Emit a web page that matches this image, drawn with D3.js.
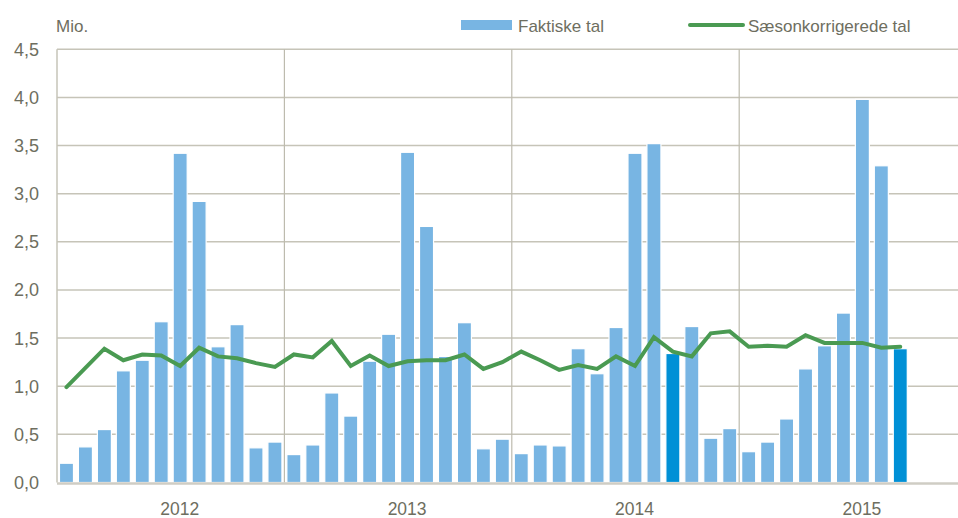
<!DOCTYPE html>
<html><head><meta charset="utf-8">
<script src="https://cdn.jsdelivr.net/npm/d3@7"></script>
<style>
body{margin:0;background:#fff;}
text{font-family:"Liberation Sans",Arial,sans-serif;fill:#6e6e60;}
</style></head>
<body>
<svg id="c" width="958" height="518"></svg>
<script>
const years = ["2012","2013","2014","2015"];
const actual = [
  0.20,0.37,0.55,1.16,1.27,1.67,3.42,2.92,1.41,1.64,0.36,0.42,
  0.29,0.39,0.93,0.69,1.26,1.54,3.43,2.66,1.31,1.66,0.35,0.45,
  0.30,0.39,0.38,1.39,1.13,1.61,3.42,3.52,1.34,1.62,0.46,0.56,
  0.32,0.42,0.66,1.18,1.42,1.76,3.98,3.29,1.39
];
const seasonal = [
  0.99,1.19,1.39,1.27,1.33,1.32,1.21,1.40,1.31,1.29,1.24,1.20,
  1.33,1.30,1.47,1.21,1.32,1.21,1.26,1.27,1.27,1.33,1.18,1.25,
  1.36,1.27,1.17,1.22,1.18,1.31,1.21,1.51,1.36,1.31,1.55,1.57,
  1.41,1.42,1.41,1.53,1.45,1.45,1.45,1.40,1.41
];
const highlighted = [32, 44]; // indices of darker bars
const yTicks = [0,0.5,1,1.5,2,2.5,3,3.5,4,4.5];
const legendLabels = ["Faktiske tal","Sæsonkorrigerede tal"];

const svg = d3.select("#c");
const mLeft = 57, mTop = 49.3, mBottom = 482.5, monthW = 18.95;
const nMonths = years.length * 12;
const x = d3.scaleBand().domain(d3.range(nMonths)).range([mLeft, mLeft + nMonths*monthW]).paddingInner(0.26).paddingOuter(0.13);
const y = d3.scaleLinear().domain([0,4.5]).range([mBottom, mTop]);
const xYear = d3.scaleBand().domain(years).range([mLeft, mLeft + nMonths*monthW]);
const fmt = d => d3.format(".1f")(d).replace(".", ",");

// horizontal grid
svg.append("g").selectAll("line").data(yTicks.filter(d=>d>0)).join("line")
  .attr("x1", mLeft).attr("x2", 958).attr("y1", d=>y(d)).attr("y2", d=>y(d))
  .attr("stroke","#c6c4b8").attr("stroke-width",1.5);
// vertical year separators
svg.append("g").selectAll("line").data(years.slice(1)).join("line")
  .attr("x1", d=>xYear(d)).attr("x2", d=>xYear(d)).attr("y1", mTop).attr("y2", mBottom)
  .attr("stroke","#bdbbae").attr("stroke-width",1.2);
// left axis line
svg.append("line").attr("x1",mLeft).attr("x2",mLeft).attr("y1",mTop).attr("y2",mBottom)
  .attr("stroke","#c6c4b8").attr("stroke-width",1.5);

// bars
svg.append("g").selectAll("rect").data(actual).join("rect")
  .attr("x",(d,i)=>x(i)).attr("width",x.bandwidth())
  .attr("y",d=>y(d)).attr("height",d=>mBottom-y(d))
  .attr("fill",(d,i)=>highlighted.includes(i)?"#0090d6":"#78b5e3")
  .attr("stroke","#ffffff").attr("stroke-width",1.2);

// bottom axis line
svg.append("line").attr("x1",mLeft).attr("x2",958).attr("y1",mBottom+1).attr("y2",mBottom+1)
  .attr("stroke","#cfcdc4").attr("stroke-width",2.5);

// line
const line = d3.line().x((d,i)=>x(i)+x.bandwidth()/2).y(d=>y(d));
svg.append("path").datum(seasonal).attr("d",line).attr("fill","none")
  .attr("stroke","#4a9a52").attr("stroke-width",4).attr("stroke-linejoin","miter").attr("stroke-linecap","round");

// y tick labels
svg.append("g").selectAll("text").data(yTicks).join("text")
  .attr("x",39).attr("y",d=>y(d)+6.5).attr("text-anchor","end")
  .style("font-size","18px").text(fmt);
// year labels
svg.append("g").selectAll("text").data(years).join("text")
  .attr("x",d=>xYear(d)+xYear.bandwidth()/2+9).attr("y",515).attr("text-anchor","middle")
  .style("font-size","17.5px").text(d=>d);
// unit
svg.append("text").attr("x",56).attr("y",32).style("font-size","17px").text("Mio.");

// legend
svg.append("rect").attr("x",461).attr("y",20).attr("width",51).attr("height",10).attr("fill","#78b5e3");
svg.append("text").attr("x",518).attr("y",32).style("font-size","17px").text(legendLabels[0]);
svg.append("line").attr("x1",690).attr("x2",743).attr("y1",25).attr("y2",25)
  .attr("stroke","#4a9a52").attr("stroke-width",4).attr("stroke-linecap","round");
svg.append("text").attr("x",748).attr("y",32).style("font-size","17px").text(legendLabels[1]);
</script>
</body></html>
